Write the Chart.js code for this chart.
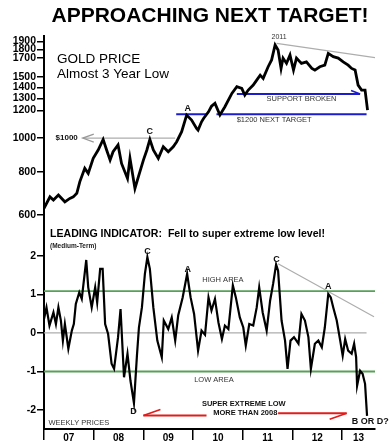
<!DOCTYPE html>
<html lang="en">
<head>
<meta charset="UTF-8">
<title>Approaching Next Target</title>
<script src="https://cdn.jsdelivr.net/npm/chart.js"></script>
<style>
  html, body { margin: 0; padding: 0; background: #fff; }
</style>
</head>
<body>
<canvas id="grafico" width="389" height="448"></canvas>
<script>
  // gold price (weekly chart, read by eye), x = decimal year
  const goldDates = [2007.00, 2007.12, 2007.19, 2007.29, 2007.42, 2007.52, 2007.59, 2007.66, 2007.72, 2007.82,
    2007.89, 2007.99, 2008.09, 2008.19, 2008.26, 2008.33, 2008.39, 2008.49, 2008.56, 2008.68,
    2008.73, 2008.83, 2008.90, 2009.00, 2009.07, 2009.13, 2009.20, 2009.30, 2009.40, 2009.50,
    2009.60, 2009.67, 2009.77, 2009.87, 2009.97, 2010.07, 2010.10, 2010.17, 2010.21, 2010.31,
    2010.37, 2010.44, 2010.54, 2010.64, 2010.78, 2010.88, 2010.98, 2011.04, 2011.11, 2011.21,
    2011.28, 2011.35, 2011.41, 2011.51, 2011.58, 2011.65, 2011.71, 2011.77, 2011.81, 2011.88,
    2011.95, 2012.02, 2012.08, 2012.18, 2012.28, 2012.39, 2012.45, 2012.55, 2012.65, 2012.72,
    2012.82, 2012.92, 2013.02, 2013.12, 2013.19, 2013.26, 2013.32, 2013.39, 2013.46, 2013.51];
  const goldPrices = [627, 677, 663, 685, 655, 670, 677, 693, 748, 818,
    791, 874, 924, 991, 924, 864, 913, 955, 845, 765,
    874, 716, 774, 864, 924, 991, 924, 874, 944, 913,
    944, 976, 1043, 1165, 1127, 1066, 1054, 1114, 1139, 1190,
    1235, 1259, 1165, 1231, 1345, 1406, 1390, 1330, 1375, 1421,
    1469, 1518, 1486, 1605, 1679, 1854, 1793, 1587, 1700, 1641,
    1734, 1570, 1700, 1641, 1658, 1587, 1570, 1605, 1622, 1753,
    1716, 1700, 1658, 1622, 1587, 1570, 1421, 1375, 1375, 1204];

  // leading indicator (medium-term)
  const indDates = [2007.00, 2007.05, 2007.11, 2007.19, 2007.24, 2007.29, 2007.34, 2007.38, 2007.42, 2007.49,
    2007.56, 2007.60, 2007.64, 2007.71, 2007.76, 2007.85, 2007.89, 2007.96, 2008.03, 2008.07,
    2008.13, 2008.18, 2008.23, 2008.29, 2008.36, 2008.41, 2008.49, 2008.54, 2008.61, 2008.68,
    2008.74, 2008.81, 2008.87, 2008.91, 2008.97, 2009.03, 2009.08, 2009.13, 2009.20, 2009.28,
    2009.37, 2009.41, 2009.50, 2009.57, 2009.64, 2009.70, 2009.79, 2009.88, 2009.95, 2010.02,
    2010.10, 2010.17, 2010.24, 2010.31, 2010.37, 2010.44, 2010.51, 2010.58, 2010.64, 2010.71,
    2010.80, 2010.86, 2010.94, 2011.01, 2011.06, 2011.13, 2011.21, 2011.28, 2011.33, 2011.40,
    2011.48, 2011.55, 2011.61, 2011.67, 2011.71, 2011.78, 2011.85, 2011.90, 2011.96, 2012.03,
    2012.12, 2012.18, 2012.25, 2012.32, 2012.37, 2012.45, 2012.52, 2012.59, 2012.65, 2012.72,
    2012.77, 2012.82, 2012.89, 2012.96, 2013.01, 2013.06, 2013.12, 2013.19, 2013.24, 2013.28,
    2013.30, 2013.36, 2013.41, 2013.46, 2013.50];
  const indValues = [0.36, 0.66, 0.19, 0.53, 0.23, 0.66, 0.32, -0.20, 0.23, -0.41,
    0.06, 0.23, 0.75, 1.05, 0.88, 1.89, 1.18, 0.66, 1.18, 0.79,
    1.66, 1.66, 0.23, -0.03, -0.80, -0.93, -0.11, 0.62, -1.15, -0.54,
    -1.24, -1.82, -0.59, 0.14, 0.66, 1.53, 1.96, 1.66, 0.66, -0.20,
    -0.63, 0.32, 0.10, 0.40, -0.20, 0.45, 0.92, 1.53, 0.92, 0.49,
    -0.46, 0.06, -0.05, 0.92, 0.58, 0.88, 0.27, -0.16, 0.19, 0.10,
    1.23, 0.92, 0.40, 0.14, -0.33, 0.23, 0.19, 0.66, 1.18, 0.53,
    0.06, 0.84, 1.27, 1.77, 1.61, 0.32, -0.20, -0.93, -0.20, -0.11,
    -0.28, 0.49, 0.32, -0.11, -0.93, -0.28, -0.20, -0.37, 0.14, 1.01,
    0.92, 0.66, 0.32, -0.20, -0.59, -0.16, -0.46, -0.54, -0.28, -0.63,
    -1.37, -0.98, -1.06, -1.32, -2.15];

  const priceTicks = [600, 800, 1000, 1200, 1300, 1400, 1500, 1700, 1800, 1900];
  const indTicks = [-2, -1, 0, 1, 2];
  const yearLabels = ['07', '08', '09', '10', '11', '12', '13'];
  const firstYear = 2007;
  const lastDate = 2013.66;

  // drawn lines [x, y]
  const line1000 = [[2007.78, 1000], [2009.64, 1000]];
  const targetLine = [[2009.66, 1172], [2010.28, 1172], [2010.37, null], [2010.47, 1172], [2013.49, 1172]];
  const supportLine = [[2010.88, 1339], [2013.36, 1339]];
  const topTrend = [[2011.68, 1875], [2013.66, 1704]];
  const highLine = [[2007, 1.08], [2013.66, 1.08]];
  const lowLine = [[2007, -1], [2013.66, -1]];
  const zeroLine = [[2007, 0], [2013.49, 0]];
  const indTrend = [[2011.71, 1.79], [2013.64, 0.42]];
  const redLeft = [[2009.0, -2.14], [2010.27, -2.14]];
  const redRight = [[2011.71, -2.08], [2013.09, -2.08]];

  // notes: text, x, y
  const priceNotes = [
    ['2011', 2011.73, 1950], ['C', 2009.13, 1047], ['A', 2009.89, 1218],
    ['SUPPORT BROKEN', 2012.18, 1293], ['$1200 NEXT TARGET', 2011.63, 1127], ['$1000', 2007.68, 1000]
  ];
  const indNotes = [
    ['C', 2009.08, 2.11], ['D', 2008.80, -2.03], ['A', 2009.89, 1.63], ['C', 2011.68, 1.89], ['A', 2012.72, 1.21],
    ['HIGH AREA', 2010.60, 1.38], ['LOW AREA', 2010.42, -1.21], ['B OR D?', 2013.19, -2.30],
    ['WEEKLY PRICES', 2007.09, -2.34], ['SUPER EXTREME LOW', 2011.02, -1.84], ['MORE THAN 2008', 2011.05, -2.08]
  ];

  const FONT = '"Liberation Sans", Arial, sans-serif';
  const BLUE = '#1c1ccf', GREEN = '#58a058', RED = '#e01c1c', GRAY = '#adadad';

  const pts = (xs, ys) => xs.map((x, i) => ({ x: x, y: ys[i] }));
  const seg = arr => arr.map(p => ({ x: p[0], y: p[1] }));
  function lineSet(data, axis, color, width) {
    return { data: seg(data), yAxisID: axis, borderColor: color, borderWidth: width,
      pointRadius: 0, spanGaps: false, tension: 0, order: 2 };
  }

  // x ticks: year boundaries (marks only) + mid-year labels
  const xTicks = [];
  const xLabel = {};
  yearLabels.forEach((lab, i) => {
    const y0 = firstYear + i;
    xTicks.push(y0);
    const mid = Math.min(y0 + 1, lastDate);
    const c = (y0 + mid) / 2;
    xTicks.push(c);
    xLabel[c] = lab;
  });

  function noteFont(t) {
    if (t === 'C' || t === 'A' || t === 'D') return 'bold 9px ' + FONT;
    if (t === 'B OR D?') return 'bold 9px ' + FONT;
    if (t === 'SUPER EXTREME LOW' || t === 'MORE THAN 2008') return 'bold 7.5px ' + FONT;
    if (t === '$1000') return 'bold 8px ' + FONT;
    if (t === '2011') return '7px ' + FONT;
    return '7.5px ' + FONT;
  }

  const extras = {
    id: 'extras',
    afterDatasetsDraw(chart) {
      const c = chart.ctx, a = chart.chartArea;
      const sx = chart.scales.x;
      c.save();
      c.fillStyle = '#000';
      c.textBaseline = 'alphabetic';
      c.textAlign = 'center';
      c.font = 'bold 21px ' + FONT;
      c.fillText('APPROACHING NEXT TARGET!', (a.left + a.right) / 2 + 0.5, 22);

      c.textAlign = 'left';
      c.font = '13.5px ' + FONT;
      c.fillText('GOLD PRICE', a.left + 13, 63);
      c.fillText('Almost 3 Year Low', a.left + 13, 78);

      c.font = 'bold 10.6px ' + FONT;
      c.fillText('LEADING INDICATOR:  Fell to super extreme low level!', a.left + 6, 237);
      c.font = 'bold 6.5px ' + FONT;
      c.fillStyle = '#222';
      c.fillText('(Medium-Term)', a.left + 6, 247.5);

      // notes
      c.textBaseline = 'middle';
      const put = (list, scale) => list.forEach(n => {
        const t = n[0];
        c.font = noteFont(t);
        c.fillStyle = (t.length > 1 && !/^(SUPER|MORE|B OR|\$1000)/.test(t)) ? '#333' : '#111';
        c.textAlign = (t === '$1000') ? 'right' : (t === 'B OR D?' || t === 'WEEKLY PRICES') ? 'left' : 'center';
        c.fillText(t, sx.getPixelForValue(n[1]), scale.getPixelForValue(n[2]));
      });
      put(priceNotes, chart.scales.yP);
      put(indNotes, chart.scales.yI);

      // arrow heads from the drawn line ends
      const end = (i, j) => chart.getDatasetMeta(i).data[j];
      c.lineWidth = 1.3;
      c.strokeStyle = '#999';
      let p = end(2, 0);
      c.beginPath();
      c.moveTo(p.x + 11, p.y - 4); c.lineTo(p.x, p.y); c.lineTo(p.x + 11, p.y + 4);
      c.stroke();

      c.strokeStyle = BLUE; c.lineWidth = 1.6;
      p = end(4, 1);
      c.beginPath(); c.moveTo(p.x - 9, p.y - 3.5); c.lineTo(p.x, p.y); c.stroke();

      c.strokeStyle = RED; c.lineWidth = 1.6;
      p = end(10, 0);
      c.beginPath(); c.moveTo(p.x + 17, p.y - 6); c.lineTo(p.x, p.y); c.stroke();
      p = end(11, 1);
      c.beginPath(); c.moveTo(p.x - 17, p.y + 6); c.lineTo(p.x, p.y); c.stroke();
      c.restore();
    }
  };

  const yTickFont = { family: FONT, size: 10.5, weight: 'bold' };

  new Chart(document.getElementById('grafico').getContext('2d'), {
    type: 'line',
    data: {
      datasets: [
        { data: pts(goldDates, goldPrices), yAxisID: 'yP', borderColor: '#000', borderWidth: 2.8,
          pointRadius: 0, tension: 0, order: 0 },
        { data: pts(indDates, indValues), yAxisID: 'yI', borderColor: '#000', borderWidth: 2.2,
          pointRadius: 0, tension: 0, order: 0 },
        lineSet(line1000, 'yP', GRAY, 1.3),
        lineSet(targetLine, 'yP', BLUE, 2),
        lineSet(supportLine, 'yP', BLUE, 2),
        lineSet(topTrend, 'yP', GRAY, 1.2),
        lineSet(highLine, 'yI', GREEN, 1.8),
        lineSet(lowLine, 'yI', GREEN, 1.8),
        lineSet(zeroLine, 'yI', GRAY, 1.3),
        lineSet(indTrend, 'yI', GRAY, 1.2),
        lineSet(redLeft, 'yI', RED, 2),
        lineSet(redRight, 'yI', RED, 2)
      ]
    },
    options: {
      responsive: false,
      animation: false,
      layout: { padding: { top: 36, right: 14, bottom: 0, left: 0 } },
      plugins: { legend: { display: false }, tooltip: { enabled: false } },
      scales: {
        x: {
          type: 'linear', min: firstYear, max: lastDate, bounds: 'data',
          border: { color: '#000', width: 2 },
          grid: {
            drawOnChartArea: false, tickLength: 11, lineWidth: 1.5,
            color: ctx => (ctx.tick && Number.isInteger(ctx.tick.value)) ? '#000' : 'rgba(0,0,0,0)'
          },
          ticks: {
            autoSkip: false, maxRotation: 0, padding: -8, color: '#000',
            font: { family: FONT, size: 10, weight: 'bold' },
            callback: v => xLabel[v] || ''
          },
          afterBuildTicks: s => { s.ticks = xTicks.map(v => ({ value: v })); },
          afterFit: s => { s.height = 19; }
        },
        yP: {
          type: 'logarithmic', position: 'left', stack: 'panels', stackWeight: 190, weight: 1,
          min: 558, max: 1968,
          border: { color: '#000', width: 2 },
          grid: { drawOnChartArea: false, tickLength: 7, lineWidth: 1.5, color: '#000' },
          ticks: { autoSkip: false, padding: 1, color: '#000', font: yTickFont, callback: v => String(v) },
          afterBuildTicks: s => { s.ticks = priceTicks.map(v => ({ value: v })); },
          afterFit: s => { s.width = 44; }
        },
        yI: {
          type: 'linear', position: 'left', stack: 'panels', stackWeight: 203, weight: 0,
          min: -2.49, max: 2.77, bounds: 'data',
          border: { color: '#000', width: 2 },
          grid: { drawOnChartArea: false, tickLength: 7, lineWidth: 1.5, color: '#000' },
          ticks: { autoSkip: false, padding: 1, color: '#000', font: yTickFont, callback: v => String(v) },
          afterBuildTicks: s => { s.ticks = indTicks.map(v => ({ value: v })); },
          afterFit: s => { s.width = 44; }
        }
      }
    },
    plugins: [extras]
  });
</script>
</body>
</html>
